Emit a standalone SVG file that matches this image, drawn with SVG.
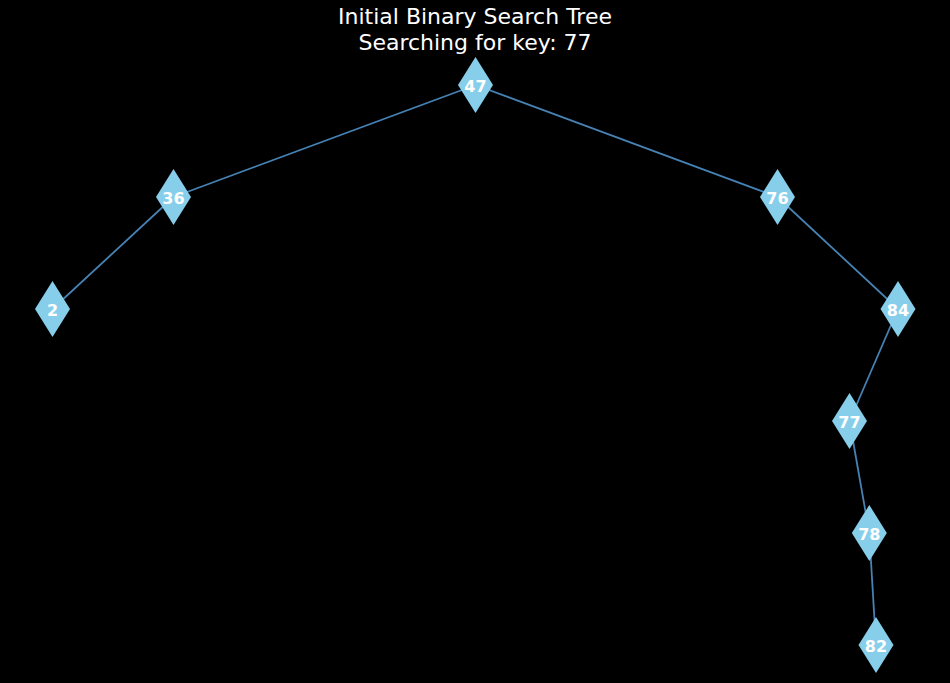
<svg xmlns="http://www.w3.org/2000/svg" width="950" height="683" viewBox="0 0 950 683">
<style>
.title{font-family:"DejaVu Sans",sans-serif;font-size:22px;fill:#ffffff;text-anchor:middle}
.edge{stroke:#4682b4;stroke-width:1.8;fill:none}
.node{fill:#87ceeb}
.lbl{font-family:"DejaVu Sans",sans-serif;font-size:16px;font-weight:bold;fill:#ffffff;text-anchor:middle;dominant-baseline:central}
</style>
<defs>
<polygon id="dia" points="0,-28 17.5,0 0,28 -17.5,0"/>
</defs>
<rect width="950" height="683" fill="#000000"/>
<text id="title1" class="title" x="475" y="24.2">Initial Binary Search Tree</text>
<text id="title2" class="title" x="475" y="50.2">Searching for key: 77</text>
<g id="edges">
<line class="edge" x1="475.5" y1="85" x2="173.5" y2="197"/>
<line class="edge" x1="475.5" y1="85" x2="777.5" y2="197"/>
<line class="edge" x1="173.5" y1="197" x2="52.5" y2="309"/>
<line class="edge" x1="777.5" y1="197" x2="898" y2="309"/>
<line class="edge" x1="898" y1="309" x2="849.5" y2="421"/>
<line class="edge" x1="849.5" y1="421" x2="869.3" y2="533"/>
<line class="edge" x1="869.3" y1="533" x2="876" y2="645"/>
</g>
<g id="n47"><use href="#dia" class="node" x="475.5" y="85"/><text class="lbl" x="475.5" y="86">47</text></g>
<g id="n36"><use href="#dia" class="node" x="173.5" y="197"/><text class="lbl" x="173.5" y="198">36</text></g>
<g id="n76"><use href="#dia" class="node" x="777.5" y="197"/><text class="lbl" x="777.5" y="198">76</text></g>
<g id="n2"><use href="#dia" class="node" x="52.5" y="309"/><text class="lbl" x="52.5" y="310">2</text></g>
<g id="n84"><use href="#dia" class="node" x="898" y="309"/><text class="lbl" x="898" y="310">84</text></g>
<g id="n77"><use href="#dia" class="node" x="849.5" y="421"/><text class="lbl" x="849.5" y="422">77</text></g>
<g id="n78"><use href="#dia" class="node" x="869.3" y="533"/><text class="lbl" x="869.3" y="534">78</text></g>
<g id="n82"><use href="#dia" class="node" x="876" y="645"/><text class="lbl" x="876" y="646">82</text></g>
</svg>
